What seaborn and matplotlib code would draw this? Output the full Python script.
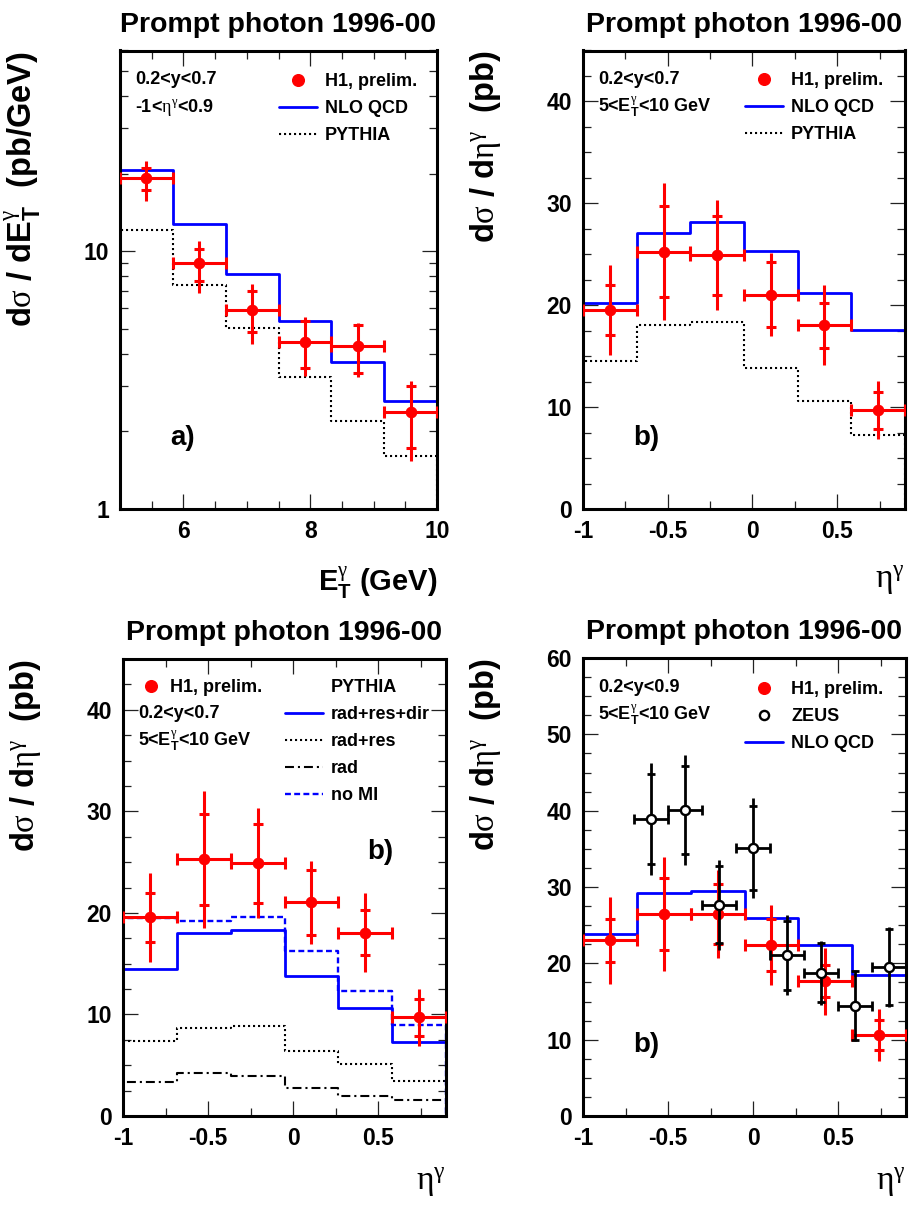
import numpy as np
import matplotlib
matplotlib.use("Agg")
import matplotlib.pyplot as plt
import seaborn as sns
from matplotlib.lines import Line2D
from matplotlib.ticker import FixedLocator, MultipleLocator, LogLocator, FuncFormatter, NullFormatter

# ---------------- data ----------------
# (a) d sigma / dET, 0.2<y<0.7, -1<eta<0.9
et_edges = [5.0, 5.833, 6.667, 7.5, 8.333, 9.167, 10.0]
et_h1 = [19.2, 9.0, 5.93, 4.46, 4.28, 2.37]
et_stat_up = [1.8, 1.2, 1.05, 0.92, 0.89, 0.62]
et_stat_dn = [1.9, 1.34, 1.07, 0.95, 0.91, 0.64]
et_tot_up = [3.2, 1.9, 1.52, 1.11, 0.98, 0.78]
et_tot_dn = [3.6, 2.1, 1.55, 1.17, 1.02, 0.84]
et_nlo = [20.6, 12.7, 8.17, 5.35, 3.70, 2.63]
et_pythia = [12.07, 7.37, 5.03, 3.26, 2.20, 1.60]

# (b) d sigma / d eta, 0.2<y<0.7, 5<ET<10 GeV
eta_edges = [-1.0, -0.683, -0.367, -0.05, 0.267, 0.583, 0.9]
eta_h1 = [19.55, 25.26, 24.9, 21.05, 18.05, 9.7]
eta_stat = [2.45, 4.5, 3.9, 3.2, 2.2, 1.8]
eta_tot = [4.4, 6.75, 5.4, 4.1, 3.9, 2.85]
eta_nlo = [20.2, 27.1, 28.2, 25.3, 21.2, 17.56]
py_rad_res_dir = [14.5, 18.05, 18.35, 13.8, 10.64, 7.26]
py_rad_res = [7.4, 8.65, 8.84, 6.38, 5.12, 3.45]
py_rad = [3.34, 4.21, 3.91, 2.77, 2.01, 1.56]
py_no_mi = [19.5, 19.24, 19.58, 16.24, 12.33, 8.99]

# d sigma / d eta, 0.2<y<0.9, H1 vs ZEUS
cmp_h1 = [23.0, 26.45, 26.45, 22.4, 17.67, 10.66]
cmp_h1_stat = [2.8, 4.7, 3.9, 3.4, 2.05, 1.95]
cmp_h1_tot = [5.7, 7.45, 5.8, 5.25, 4.4, 3.4]
cmp_nlo = [23.86, 29.2, 29.5, 25.94, 22.4, 18.43]
zeus_eta = [-0.6, -0.4, -0.2, 0.0, 0.2, 0.4, 0.6, 0.8]
zeus_halfwidth = [0.1] * 8
zeus_val = [38.88, 40.1, 27.66, 35.1, 21.07, 18.78, 14.46, 19.5]
zeus_stat = [5.9, 5.75, 5.05, 5.5, 4.5, 3.9, 4.55, 5.0]
zeus_tot = [7.35, 7.25, 5.85, 6.6, 5.2, 4.2, 4.7, 5.2]

title_text = "Prompt photon 1996-00"
et_major_ticks = [6, 8, 10]
eta_major_ticks = [-1, -0.5, 0, 0.5]

# ---------------- style ----------------
sns.set_theme(style="white")
plt.rcParams["font.family"] = ["Liberation Sans", "DejaVu Sans"]
plt.rcParams["font.weight"] = "bold"
plt.rcParams["mathtext.fontset"] = "custom"
plt.rcParams["mathtext.rm"] = "Liberation Serif:weight=normal"
plt.rcParams["mathtext.it"] = "Liberation Sans:bold"
plt.rcParams["mathtext.bf"] = "Liberation Sans:bold"
plt.rcParams["mathtext.default"] = "regular"
plt.rcParams["axes.unicode_minus"] = False
for key in ("text.color", "axes.labelcolor", "xtick.color", "ytick.color", "axes.edgecolor"):
    plt.rcParams[key] = "black"

RED = "#ff0000"
BLUE = "#0000ff"
BLACK = "#000000"
DOTTED = (0, (1, 1.4))
DASHDOT = (0, (4.3, 1.9, 1, 1.9))
DASHED = (0, (2.5, 1.4))

W, H = 909, 1207
fig = plt.figure(figsize=(W / 100, H / 100), dpi=100)
boxes = {}


def panel(l, r, t, b):
    ax = fig.add_axes([l / W, 1 - b / H, (r - l) / W, (b - t) / H])
    boxes[ax] = (l, r, t, b)
    return ax


def frac(ax, px, py):
    l, r, t, b = boxes[ax]
    return (px - l) / (r - l), (b - py) / (b - t)


def frame(ax, xlim, ylim, log=False):
    ax.set_xlim(*xlim)
    if log:
        ax.set_yscale("log")
    ax.set_ylim(*ylim)
    for s in ax.spines.values():
        s.set_linewidth(2.2)
        s.set_color(BLACK)
        s.set_visible(True)
    ax.tick_params(which="both", direction="in", top=True, right=True,
                   bottom=True, left=True, color="#222222", width=0.9,
                   labelcolor="black")
    ax.tick_params(which="major", length=11, pad=8, labelsize=16.5)
    ax.tick_params(which="minor", length=6)
    ax.set_title(title_text, fontsize=20.5, fontweight="bold", pad=13.5, color="black")


def stairs(ax, edges, vals, base, color, lw, ls="-"):
    xs = np.repeat(np.asarray(edges, float), 2)
    ys = np.concatenate([[base], np.repeat(np.asarray(vals, float), 2), [base]])
    sns.lineplot(x=xs, y=ys, estimator=None, sort=False, ax=ax, color=color,
                 linewidth=lw, linestyle=ls, zorder=2)


def points(ax, x, y, hw, stat, tot, color, face, ms, lw, cap_end, cap_stat, z):
    x = np.asarray(x, float)
    y = np.asarray(y, float)
    ax.errorbar(x, y, xerr=hw, fmt="none", ecolor=color, elinewidth=lw,
                capsize=cap_end, capthick=lw, zorder=z)
    ax.errorbar(x, y, yerr=tot, fmt="none", ecolor=color, elinewidth=lw,
                capsize=0, zorder=z)
    eb = ax.errorbar(x, y, yerr=stat, fmt="none", ecolor=color, elinewidth=lw,
                     capsize=cap_stat, capthick=lw, zorder=z)
    for bars in eb[2]:
        bars.set_visible(False)
    sns.scatterplot(x=x, y=y, ax=ax, s=ms ** 2, color=face, edgecolor=color,
                    linewidth=(0 if face == color else 1.7), zorder=z + 1, legend=False)


def legend(ax, handles, labels, px, ptop, hl=2.1):
    fx, fy = frac(ax, px, ptop)
    leg = ax.legend(handles, labels, loc="upper left", bbox_to_anchor=(fx, fy),
                    bbox_transform=ax.transAxes, frameon=False, borderpad=0,
                    borderaxespad=0, handlelength=hl, handletextpad=0.45,
                    labelspacing=0.56, fontsize=13, labelcolor="black")
    return leg


def text(ax, px, py, s, size=13):
    fx, fy = frac(ax, px, py)
    ax.text(fx, fy, s, transform=ax.transAxes, ha="left", va="center",
            fontsize=size, fontweight="bold", color="black")


def ylabel(ax, s, right_px):
    ax.set_ylabel(s, loc="top", fontsize=23.5, fontweight="bold")
    fx, _ = frac(ax, right_px, 0)
    ax.yaxis.set_label_coords(fx, 1.0)


def xlabel(ax, s, top_px, **kw):
    ax.set_xlabel(s, loc="right", **kw)
    _, fy = frac(ax, 0, top_px)
    ax.xaxis.set_label_coords(1.0, fy)


def eta_axis(ax, label_top):
    ax.xaxis.set_major_locator(FixedLocator(eta_major_ticks))
    ax.xaxis.set_minor_locator(MultipleLocator(0.25))
    ax.xaxis.set_major_formatter(FuncFormatter(lambda v, p: "%g" % v))
    ax.yaxis.set_major_locator(MultipleLocator(10))
    ax.yaxis.set_minor_locator(MultipleLocator(2.5))
    ax.yaxis.set_major_formatter(FuncFormatter(lambda v, p: "%g" % v))
    xlabel(ax, r"$\mathrm{\eta^{\gamma}}$", label_top, fontsize=24, fontweight="normal")


h1_handle = Line2D([], [], color=RED, marker="o", markersize=8.4, linestyle="none")
zeus_handle = Line2D([], [], color=BLACK, marker="o", markersize=6.6, markerfacecolor="white",
                     markeredgewidth=1.7, linestyle="none")
nlo_handle = Line2D([], [], color=BLUE, linewidth=2.0)
py_handle = Line2D([], [], color=BLACK, linewidth=1.5, linestyle=DOTTED)
dashdot_handle = Line2D([], [], color=BLACK, linewidth=1.5, linestyle=DASHDOT)
nomi_handle = Line2D([], [], color=BLUE, linewidth=1.7, linestyle=DASHED)
blank_handle = Line2D([], [], linestyle="none")

et_edges_a = np.asarray(et_edges)
et_c = 0.5 * (et_edges_a[1:] + et_edges_a[:-1])
et_hw = 0.5 * np.diff(et_edges_a)
eta_edges_a = np.asarray(eta_edges)
eta_c = 0.5 * (eta_edges_a[1:] + eta_edges_a[:-1])
eta_hw = 0.5 * np.diff(eta_edges_a)

ax1 = panel(120, 437, 50.5, 509)
ax2 = panel(583, 905, 50.5, 509)
ax3 = panel(123, 446, 659, 1116)
ax4 = panel(583, 906, 658, 1116)

# ---- (a) ET distribution, log scale
frame(ax1, (5, 10), (1, 60), log=True)
stairs(ax1, et_edges, et_pythia, 1, BLACK, 1.5, DOTTED)
stairs(ax1, et_edges, et_nlo, 1, BLUE, 2.0)
points(ax1, et_c, et_h1, et_hw, [et_stat_dn, et_stat_up], [et_tot_dn, et_tot_up],
       RED, RED, 8.4, 2.2, 4.3, 3.8, 3)
ax1.xaxis.set_major_locator(FixedLocator(et_major_ticks))
ax1.xaxis.set_minor_locator(MultipleLocator(0.5))
ax1.xaxis.set_major_formatter(FuncFormatter(lambda v, p: "%g" % v))
ax1.yaxis.set_major_locator(FixedLocator([1, 10]))
ax1.yaxis.set_minor_locator(LogLocator(base=10, subs=np.arange(2, 10)))
ax1.yaxis.set_major_formatter(FuncFormatter(lambda v, p: "%g" % v))
ax1.yaxis.set_minor_formatter(NullFormatter())
ylabel(ax1, r"d$\mathrm{\sigma}$ / dE$_{T}^{\mathrm{\gamma}}$  (pb/GeV)", 43)
xlabel(ax1, r"E$_{T}^{\mathrm{\gamma}}$ (GeV)", 566, fontsize=21, fontweight="bold")
legend(ax1, [h1_handle, nlo_handle, py_handle], ["H1, prelim.", "NLO QCD", "PYTHIA"], 279, 73)
text(ax1, 135, 80, "0.2<y<0.7")
text(ax1, 135, 108, r"-1<$\mathrm{\eta^{\gamma}}$<0.9")
text(ax1, 170, 438, "a)", size=20)

# ---- (b) eta distribution vs NLO
frame(ax2, (-1, 0.9), (0, 45))
stairs(ax2, eta_edges, py_rad_res_dir, 0, BLACK, 1.5, DOTTED)
stairs(ax2, eta_edges, eta_nlo, 0, BLUE, 2.0)
points(ax2, eta_c, eta_h1, eta_hw, eta_stat, eta_tot, RED, RED, 8.4, 2.2, 4.3, 3.8, 3)
eta_axis(ax2, 564)
ylabel(ax2, r"d$\mathrm{\sigma}$ / d$\mathrm{\eta^{\gamma}}$  (pb)", 503)
legend(ax2, [h1_handle, nlo_handle, py_handle], ["H1, prelim.", "NLO QCD", "PYTHIA"], 745, 72)
text(ax2, 598, 79, "0.2<y<0.7")
text(ax2, 598, 107, r"5<E$_{T}^{\mathrm{\gamma}}$<10 GeV")
text(ax2, 633, 438, "b)", size=20)

# ---- (b) eta distribution vs PYTHIA components
frame(ax3, (-1, 0.9), (0, 45))
stairs(ax3, eta_edges, py_rad, 0, BLACK, 1.5, DASHDOT)
stairs(ax3, eta_edges, py_rad_res, 0, BLACK, 1.5, DOTTED)
stairs(ax3, eta_edges, py_no_mi, 0, BLUE, 1.7, DASHED)
stairs(ax3, eta_edges, py_rad_res_dir, 0, BLUE, 2.0)
points(ax3, eta_c, eta_h1, eta_hw, eta_stat, eta_tot, RED, RED, 8.4, 2.2, 4.3, 3.8, 3)
eta_axis(ax3, 1166)
ylabel(ax3, r"d$\mathrm{\sigma}$ / d$\mathrm{\eta^{\gamma}}$  (pb)", 43)
leg_h1 = legend(ax3, [h1_handle], ["H1, prelim."], 140, 679, hl=1.2)
ax3.add_artist(leg_h1)
legend(ax3, [blank_handle, nlo_handle, py_handle, dashdot_handle, nomi_handle],
       ["PYTHIA", "rad+res+dir", "rad+res", "rad", "no MI"], 285, 679)
text(ax3, 138, 714, "0.2<y<0.7")
text(ax3, 138, 741, r"5<E$_{T}^{\mathrm{\gamma}}$<10 GeV")
text(ax3, 367, 852, "b)", size=20)

# ---- H1 vs ZEUS, 0.2<y<0.9
frame(ax4, (-1, 0.9), (0, 60))
stairs(ax4, eta_edges, cmp_nlo, 0, BLUE, 2.0)
points(ax4, eta_c, cmp_h1, eta_hw, cmp_h1_stat, cmp_h1_tot, RED, RED, 8.4, 2.2, 4.3, 3.8, 3)
points(ax4, zeus_eta, zeus_val, zeus_halfwidth, zeus_stat, zeus_tot, BLACK, "white",
       6.6, 2.0, 3.6, 2.9, 5)
eta_axis(ax4, 1166)
ylabel(ax4, r"d$\mathrm{\sigma}$ / d$\mathrm{\eta^{\gamma}}$  (pb)", 503)
legend(ax4, [h1_handle, zeus_handle, nlo_handle], ["H1, prelim.", "ZEUS", "NLO QCD"], 745, 681)
text(ax4, 598, 688, "0.2<y<0.9")
text(ax4, 598, 715, r"5<E$_{T}^{\mathrm{\gamma}}$<10 GeV")
text(ax4, 633, 1045, "b)", size=20)

fig.savefig("out.png", dpi=100, facecolor="white")
